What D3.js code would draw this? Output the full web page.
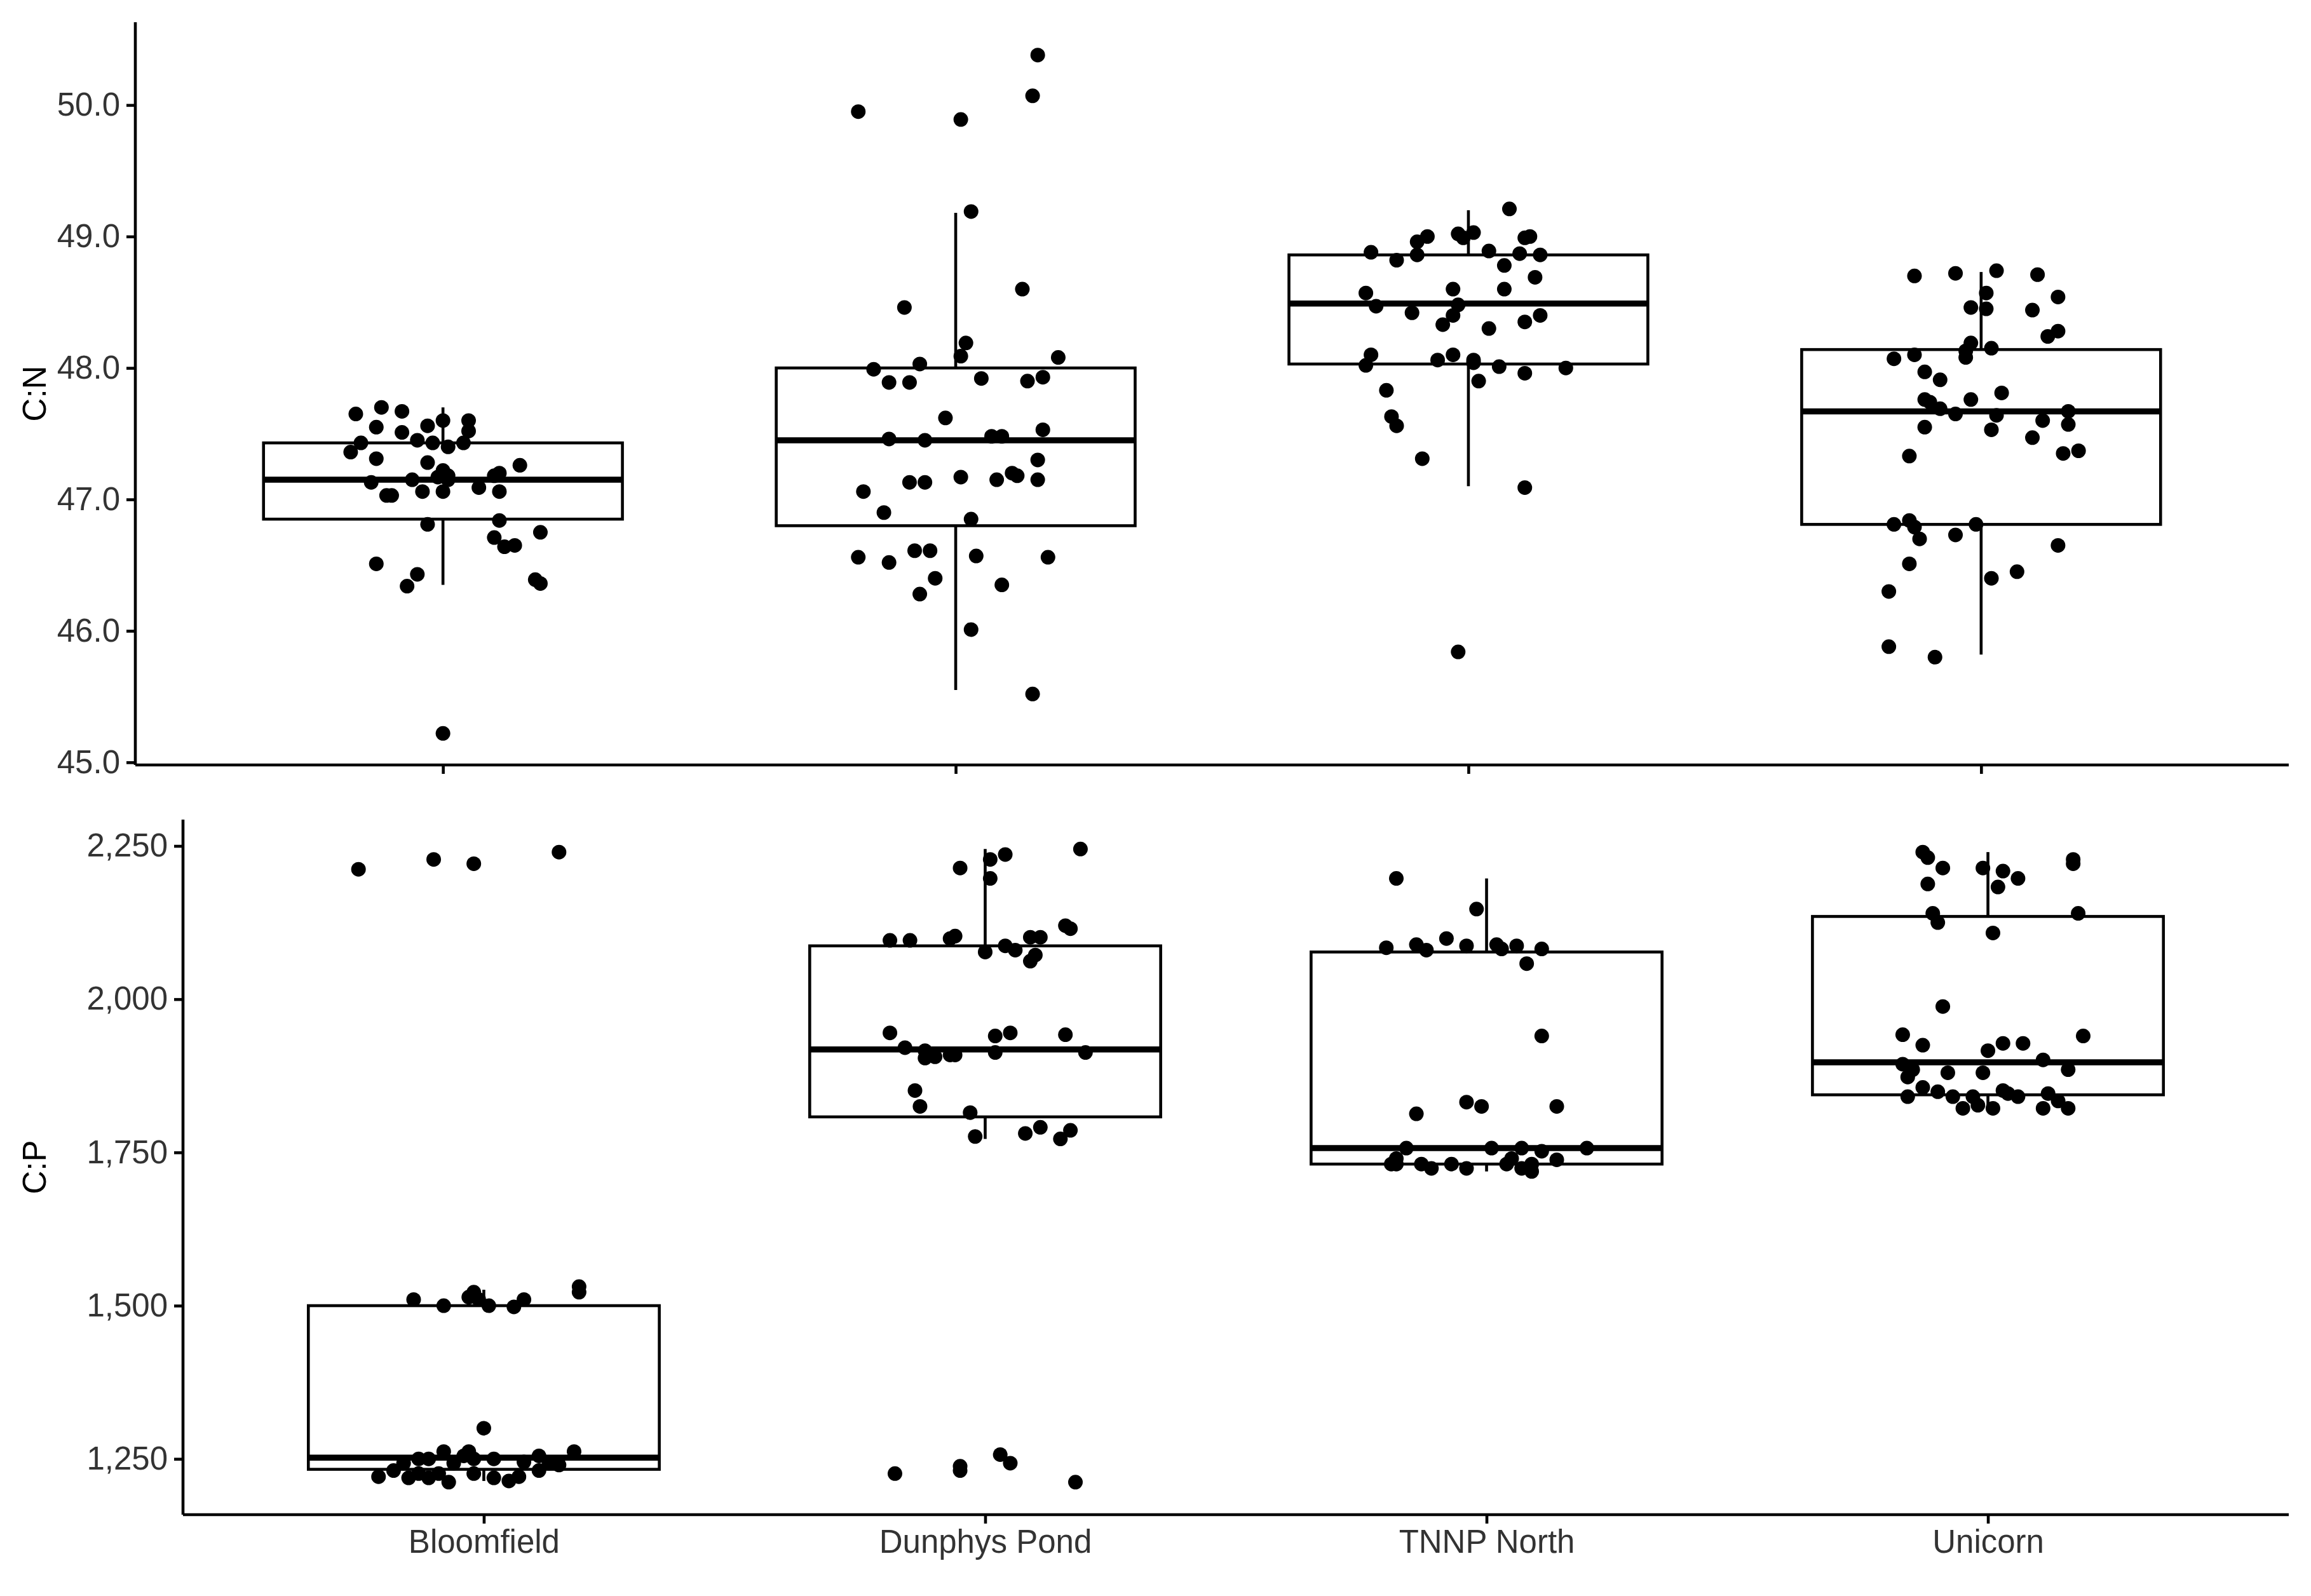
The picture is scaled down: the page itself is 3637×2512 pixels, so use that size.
<!DOCTYPE html>
<html lang="en">
<head>
<meta charset="UTF-8" />
<title>C:N and C:P by site</title>
<style>
  body { margin: 0; background: #fff; }
  svg { display: block; font-family: "Liberation Sans", Arial, sans-serif; }
</style>
</head>
<body>
<svg id="chart" width="3637" height="2512"></svg>
<script src="https://d3js.org/d3.v7.min.js"></script>
<script>
const sites = ["Bloomfield", "Dunphys Pond", "TNNP North", "Unicorn"];

// box stats: [lowerWhisker, q1, median, q3, upperWhisker]
const cnBoxes = [
  [46.35, 46.85, 47.15, 47.43, 47.70],
  [45.55, 46.80, 47.45, 48.00, 49.18],
  [47.10, 48.03, 48.49, 48.86, 49.20],
  [45.82, 46.81, 47.67, 48.14, 48.73]
];
const cpBoxes = [
  [1214, 1233, 1252, 1500, 1526],
  [1772, 1808, 1918, 2087, 2245],
  [1719, 1731, 1757, 2077, 2197],
  [1822, 1844, 1897, 2135, 2240]
];

// points: [jitter (category units), value]
const cnBloomfield = [[-0.17,47.65],[-0.12,47.70],[-0.08,47.67],[-0.13,47.55],[-0.08,47.51],[-0.03,47.56],[0,47.60],[0.05,47.60],[0.05,47.52],[-0.18,47.36],[-0.16,47.43],[-0.13,47.31],[-0.05,47.45],[-0.02,47.43],[0.01,47.40],[0.04,47.43],[-0.03,47.28],[0,47.22],[0.01,47.18],[0.15,47.26],[0.10,47.18],[0.11,47.20],[-0.14,47.13],[-0.06,47.15],[-0.01,47.17],[0.01,47.15],[-0.04,47.06],[0,47.06],[-0.10,47.03],[-0.11,47.03],[0.11,47.06],[0.07,47.09],[0.11,46.84],[-0.03,46.81],[0.10,46.71],[0.12,46.64],[0.14,46.65],[0.19,46.75],[-0.13,46.51],[-0.07,46.34],[-0.05,46.43],[0.18,46.39],[0.19,46.36],[0,45.22]];
const cnDunphys = [[-0.19,49.95],[0.01,49.89],[0.15,50.07],[0.16,50.38],[0.03,49.19],[0.13,48.60],[-0.10,48.46],[0.02,48.19],[0.01,48.09],[0.20,48.08],[-0.16,47.99],[-0.07,48.03],[-0.13,47.89],[-0.09,47.89],[0.05,47.92],[0.14,47.90],[0.17,47.93],[-0.02,47.62],[-0.13,47.46],[-0.06,47.45],[0.07,47.48],[0.09,47.48],[0.17,47.53],[0.16,47.30],[0.11,47.20],[0.12,47.18],[0.16,47.15],[0.08,47.15],[0.01,47.17],[-0.09,47.13],[-0.06,47.13],[-0.18,47.06],[-0.14,46.90],[0.03,46.85],[-0.19,46.56],[-0.13,46.52],[-0.08,46.61],[-0.05,46.61],[0.04,46.57],[0.18,46.56],[-0.04,46.40],[-0.07,46.28],[0.09,46.35],[0.03,46.01],[0.15,45.52]];
const cnTNNP = [[0.08,49.21],[-0.02,49.02],[0.01,49.03],[-0.10,48.96],[-0.08,49.00],[-0.01,48.99],[0.11,48.99],[0.12,49.00],[0.04,48.89],[-0.19,48.88],[-0.14,48.82],[-0.10,48.86],[0.10,48.87],[0.14,48.86],[0.07,48.78],[0.13,48.69],[-0.03,48.60],[0.07,48.60],[-0.20,48.57],[-0.18,48.47],[-0.02,48.48],[-0.11,48.42],[0.14,48.40],[-0.03,48.40],[0.04,48.30],[-0.05,48.33],[0.11,48.35],[-0.19,48.10],[-0.20,48.02],[-0.03,48.10],[0.01,48.06],[-0.06,48.06],[0.01,48.04],[0.06,48.01],[0.19,48.00],[0.11,47.96],[0.02,47.90],[-0.16,47.83],[-0.15,47.63],[-0.14,47.56],[-0.09,47.31],[0.11,47.09],[-0.02,45.84]];
const cnUnicorn = [[-0.05,48.72],[0.03,48.74],[-0.13,48.70],[0.11,48.71],[0.01,48.57],[0.15,48.54],[-0.02,48.46],[0.10,48.44],[0.01,48.45],[0.13,48.24],[0.15,48.28],[-0.02,48.19],[-0.03,48.13],[0.02,48.15],[-0.13,48.10],[-0.17,48.07],[-0.03,48.08],[-0.11,47.97],[-0.08,47.91],[0.04,47.81],[-0.11,47.76],[-0.10,47.74],[-0.02,47.76],[-0.08,47.69],[-0.05,47.65],[0.17,47.67],[0.03,47.64],[0.12,47.60],[-0.11,47.55],[0.02,47.53],[0.17,47.57],[0.10,47.47],[0.19,47.37],[0.16,47.35],[-0.14,47.33],[-0.17,46.81],[-0.14,46.84],[-0.13,46.79],[-0.01,46.81],[-0.05,46.73],[-0.12,46.70],[0.15,46.65],[-0.14,46.51],[0.07,46.45],[0.02,46.40],[-0.18,46.30],[-0.18,45.88],[-0.09,45.80]];

const cpBloomfield = [[-0.25,2212],[-0.10,2228],[-0.02,2221],[0.15,2240],[-0.14,1510],[-0.08,1500],[-0.03,1514],[-0.02,1522],[-0.01,1510],[0.01,1500],[0.06,1498],[0.08,1510],[0.19,1531],[0.19,1522],[0,1300],[-0.21,1221],[-0.18,1231],[-0.16,1243],[-0.13,1250],[-0.11,1250],[-0.08,1262],[-0.06,1243],[-0.04,1255],[-0.03,1262],[-0.02,1250],[-0.09,1226],[-0.11,1219],[-0.07,1212],[-0.02,1226],[0.02,1219],[0.05,1214],[0.07,1221],[0.11,1255],[0.13,1243],[0.15,1240],[0.18,1262],[0.11,1231],[-0.15,1219],[-0.13,1226],[0.02,1250],[0.08,1245]];
const cpDunphys = [[-0.05,2214],[0.01,2228],[0.04,2236],[0.19,2245],[0.01,2197],[-0.19,2096],[-0.15,2096],[-0.07,2099],[-0.06,2103],[0,2077],[0.04,2087],[0.06,2080],[0.09,2101],[0.11,2101],[0.16,2120],[0.17,2115],[0.10,2072],[0.09,2062],[-0.19,1945],[0.05,1945],[0.02,1940],[0.16,1942],[-0.16,1921],[-0.12,1916],[-0.10,1906],[-0.06,1909],[0.02,1913],[0.20,1913],[-0.12,1904],[-0.07,1909],[-0.14,1851],[-0.13,1825],[-0.03,1815],[-0.02,1776],[0.08,1781],[0.11,1791],[0.15,1772],[0.17,1786],[-0.18,1226],[-0.05,1231],[-0.05,1238],[0.03,1257],[0.05,1243],[0.18,1212]];
const cpTNNP = [[-0.18,2197],[-0.02,2147],[-0.20,2084],[-0.14,2089],[-0.12,2080],[-0.08,2099],[-0.04,2087],[0.02,2089],[0.03,2082],[0.06,2087],[0.11,2082],[0.08,2058],[0.11,1940],[-0.14,1813],[-0.04,1832],[-0.01,1825],[0.14,1825],[-0.16,1757],[-0.18,1740],[-0.19,1731],[-0.13,1731],[-0.11,1724],[-0.07,1731],[-0.04,1724],[0.01,1757],[0.04,1731],[0.05,1740],[0.07,1724],[0.09,1731],[0.11,1752],[0.14,1738],[0.20,1757],[0.07,1757],[0.09,1719],[-0.18,1731]];
const cpUnicorn = [[-0.13,2240],[-0.12,2231],[-0.09,2214],[-0.01,2214],[0.03,2209],[0.06,2197],[0.02,2183],[0.17,2228],[0.17,2221],[-0.12,2188],[-0.11,2140],[-0.10,2125],[0.01,2108],[0.18,2140],[-0.09,1988],[-0.17,1942],[0.19,1940],[-0.13,1925],[0,1916],[0.03,1928],[0.07,1928],[0.11,1901],[-0.17,1894],[-0.15,1885],[-0.08,1880],[-0.01,1880],[0.16,1885],[-0.16,1873],[-0.13,1856],[-0.16,1841],[-0.10,1849],[-0.07,1841],[-0.03,1841],[0.03,1851],[0.06,1841],[0.12,1846],[0.14,1834],[-0.05,1822],[-0.02,1827],[0.01,1822],[0.11,1822],[0.16,1822],[0.04,1846]];

const cnTicks = [45, 46, 47, 48, 49, 50];
const cpTicks = [1250, 1500, 1750, 2000, 2250];

const svg = d3.select("#chart");
const right = 3602;

const panels = [
  { label: "C:N", left: 213, top: 35, bottom: 1204, domain: [44.98, 50.63], ticks: cnTicks,
    boxes: cnBoxes, points: [cnBloomfield, cnDunphys, cnTNNP, cnUnicorn], xLabels: false },
  { label: "C:P", left: 288, top: 1290, bottom: 2384, domain: [1159, 2293], ticks: cpTicks,
    boxes: cpBoxes, points: [cpBloomfield, cpDunphys, cpTNNP, cpUnicorn], xLabels: true }
];

panels.forEach(p => {
  const x = d3.scaleLinear().domain([0.4, 4.6]).range([p.left, right]);
  const y = d3.scaleLinear().domain(p.domain).range([p.bottom, p.top]);
  const g = svg.append("g");
  const unit = x(1) - x(0);
  const halfW = 0.35 * unit;

  p.boxes.forEach((b, i) => {
    const cx = x(i + 1);
    const bg = g.append("g").attr("stroke", "#000").attr("fill", "none");
    bg.append("line").attr("x1", cx).attr("x2", cx).attr("y1", y(b[0])).attr("y2", y(b[1])).attr("stroke-width", 4.6);
    bg.append("line").attr("x1", cx).attr("x2", cx).attr("y1", y(b[3])).attr("y2", y(b[4])).attr("stroke-width", 4.6);
    bg.append("rect").attr("x", cx - halfW).attr("width", 2 * halfW)
      .attr("y", y(b[3])).attr("height", y(b[1]) - y(b[3]))
      .attr("fill", "#fff").attr("stroke-width", 4.6);
    bg.append("line").attr("x1", cx - halfW).attr("x2", cx + halfW)
      .attr("y1", y(b[2])).attr("y2", y(b[2])).attr("stroke-width", 9.5);
  });

  p.points.forEach((pts, i) => {
    g.append("g").selectAll("circle").data(pts).enter().append("circle")
      .attr("cx", d => x(i + 1 + d[0]))
      .attr("cy", d => y(d[1]))
      .attr("r", 11.5)
      .attr("fill", "#000");
  });

  const yAxis = g.append("g").attr("transform", `translate(${p.left},0)`)
    .call(d3.axisLeft(y).tickValues(p.ticks).tickSize(14).tickPadding(10));
  yAxis.select(".domain").attr("d", `M0,${p.top}V${p.bottom}`);
  const xAxis = g.append("g").attr("transform", `translate(0,${p.bottom})`)
    .call(d3.axisBottom(x).tickValues([1, 2, 3, 4]).tickSize(14).tickPadding(10)
      .tickFormat(d => p.xLabels ? sites[d - 1] : ""));
  xAxis.select(".domain").attr("d", `M${p.left},0H${right}`);
  [yAxis, xAxis].forEach(a => {
    a.selectAll("path, line").attr("stroke", "#000").attr("stroke-width", 4.6);
    a.selectAll("text").attr("font-size", 51).attr("fill", "#333")
      .attr("font-family", "'Liberation Sans', Arial, sans-serif");
  });

  g.append("text")
    .attr("transform", `translate(72,${(p.top + p.bottom) / 2}) rotate(-90)`)
    .attr("text-anchor", "middle")
    .attr("font-size", 51)
    .text(p.label);
});
</script>
</body>
</html>
